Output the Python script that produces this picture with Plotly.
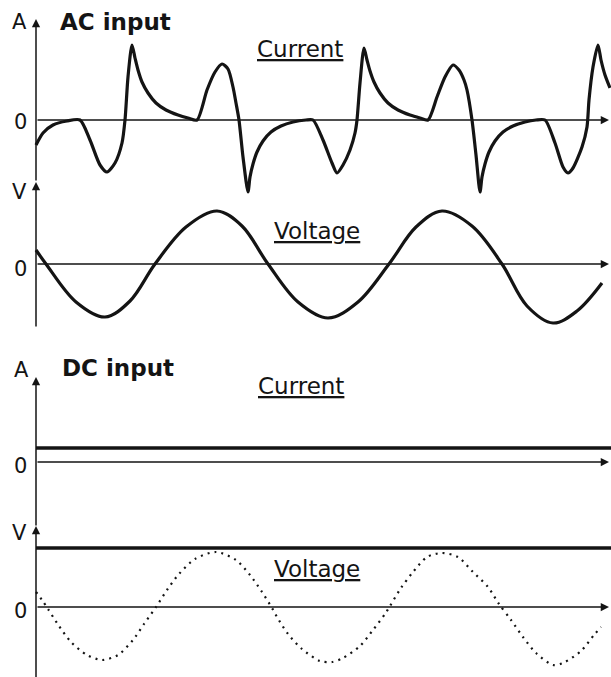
import plotly.graph_objects as go

# ---------------- data (time in arbitrary units, values in arbitrary units) -------------
ac_current_t = [0, 7, 17, 31, 44, 54, 64, 71, 79, 86, 89, 92, 96,
                99, 102, 106, 112, 120, 130, 142, 152, 161,
                171, 179, 186, 192, 197, 200, 203, 207, 212,
                214, 217, 221, 227, 235, 245, 257, 270, 277,
                287, 296, 301, 307, 314, 319, 321, 324, 328,
                331, 334, 338, 344, 352, 362, 374, 384, 392,
                401, 409, 417, 423, 428, 431, 436, 440, 444,
                446, 449, 453, 459, 467, 477, 489, 500, 509,
                519, 527, 532, 537, 546, 551, 553, 557, 562, 565, 569, 574]
ac_current_v = [-25, -13, -5, -1, 0, -20, -45, -52, -43, -23, 0, 43, 75,
                62, 50, 38, 27, 17, 10, 5, 2, 0,
                30, 48, 56, 51, 33, 17, 0, -37, -72,
                -57, -44, -32, -21, -12, -6, -2, 0, 0,
                -20, -43, -53, -45, -30, -13, 0, 37, 72,
                60, 49, 38, 27, 17, 10, 5, 2, 0,
                23, 43, 55, 50, 40, 30, 0, -35, -72,
                -57, -44, -32, -21, -12, -6, -2, 0, 0,
                -23, -47, -53, -48, -27, -7, 20, 53, 75, 60, 45, 32]

ac_voltage_t = [0, 10, 40, 69, 94, 119, 150, 181, 206, 232, 262, 292, 322, 353,
                380, 406, 436, 466, 491, 517, 541, 566]
ac_voltage_v = [14, 0, -38, -53, -37, 0, 37, 53, 38, 0, -38, -54, -38, 0,
                37, 53, 38, 0, -42, -59, -47, -19]

dc_current_t = [0, 575]
dc_current_v = [14, 14]

dc_voltage_t = [0, 575]
dc_voltage_v = [59, 59]

ac_ref_t = [0, 6, 12, 23, 35, 51, 66, 82, 97, 108, 120, 131, 143, 159, 180, 200, 214, 226, 236,
            241, 252, 266, 284, 296, 307, 324, 337, 349, 354, 365, 377, 391, 406, 422, 437,
            452, 463, 475, 487, 500, 517, 527, 545, 558, 565]
ac_ref_v = [15, 7, -2, -19, -35, -48, -53, -48, -33, -17, 0, 17, 33, 48, 55, 47, 32, 15, -1,
            -10, -27, -42, -54, -55, -51, -39, -23, -7, 1, 19, 35, 50, 54, 50, 35,
            20, 3, -13, -30, -46, -58, -56, -44, -28, -20]

# ---------------- layout helpers --------------------------------------------------------
W, H = 611, 677
AXIS_X = 36             # y axes line position (pixels from the left)
INK = "#141414"
FONT = "DejaVu Sans"


def yrange(zero_px):
    # 1 value unit = 1 screen pixel, zero line at zero_px from the top
    return [zero_px - H, zero_px]


fig = go.Figure()

line_w = 3.2
fig.add_trace(go.Scatter(x=ac_current_t, y=ac_current_v, mode="lines", yaxis="y",
                         line=dict(color=INK, width=line_w, shape="spline", smoothing=0.7)))
fig.add_trace(go.Scatter(x=ac_voltage_t, y=ac_voltage_v, mode="lines", yaxis="y2",
                         line=dict(color=INK, width=line_w, shape="spline", smoothing=1.0)))
fig.add_trace(go.Scatter(x=dc_current_t, y=dc_current_v, mode="lines", yaxis="y3",
                         line=dict(color=INK, width=3.6)))
fig.add_trace(go.Scatter(x=dc_voltage_t, y=dc_voltage_v, mode="lines", yaxis="y4",
                         line=dict(color=INK, width=3.6)))
fig.add_trace(go.Scatter(x=ac_ref_t, y=ac_ref_v, mode="lines", yaxis="y4",
                         line=dict(color=INK, width=2.2, shape="spline", smoothing=0.8,
                                   dash="2px,5px")))

annotations = []


def arrow(yref, x0, y0, x1, y1):
    annotations.append(dict(x=x1, y=y1, ax=x0, ay=y0, xref="x", yref=yref,
                            axref="x", ayref=yref, showarrow=True, text="",
                            arrowhead=2, arrowsize=1.1, arrowwidth=1.5,
                            arrowcolor=INK, standoff=0, startstandoff=0))


# horizontal zero axes
arrow("y", 0, 0, 573, 0)
arrow("y2", 0, 0, 573, 0)
arrow("y3", 0, 0, 573, 0)
arrow("y4", 0, 0, 573, 0)
# vertical axes
arrow("y", 0, -62, 0, 101)
arrow("y2", 0, -64, 0, 82)
arrow("y3", 0, -65, 0, 85)
arrow("y4", 0, -72, 0, 81)


def label(yref, x, y, text, size=22, anchor="center", bold=False):
    annotations.append(dict(x=x, y=y, xref="x", yref=yref, text=text, showarrow=False,
                            xanchor=anchor, yanchor="middle",
                            font=dict(family=FONT, size=size, color=INK,
                                      weight="bold" if bold else "normal")))


label("y", -17, 98, "A", 21)
label("y", 22, 98, "AC input", 23, "left", True)
label("y", 219, 71, "<u>Current</u>", 23, "left")
label("y", -16, -2, "0", 21)
label("y2", -17, 72, "V", 21)
label("y2", -16, -5, "0", 21)
label("y2", 236, 33, "<u>Voltage</u>", 23, "left")

label("y3", -15, 92, "A", 21)
label("y3", 24, 94, "DC input", 23, "left", True)
label("y3", 220, 76, "<u>Current</u>", 23, "left")
label("y3", -16, -4, "0", 21)
label("y4", -17, 74, "V", 21)
label("y4", -16, -4, "0", 21)
label("y4", 236, 38, "<u>Voltage</u>", 23, "left")

hidden = dict(visible=False, fixedrange=True)
fig.update_layout(
    width=W, height=H,
    margin=dict(l=0, r=0, t=0, b=0),
    paper_bgcolor="white", plot_bgcolor="white",
    showlegend=False,
    xaxis=dict(range=[-AXIS_X, W - AXIS_X], domain=[0, 1], **hidden),
    yaxis=dict(range=yrange(120), domain=[0, 1], **hidden),
    yaxis2=dict(range=yrange(264), overlaying="y", **hidden),
    yaxis3=dict(range=yrange(462), overlaying="y", **hidden),
    yaxis4=dict(range=yrange(607), overlaying="y", **hidden),
    annotations=annotations,
)

fig.write_html(
    "out.html",
    config={"displayModeBar": False, "responsive": False},
    post_script="document.body.style.margin='0';document.body.style.overflow='hidden';",
)
